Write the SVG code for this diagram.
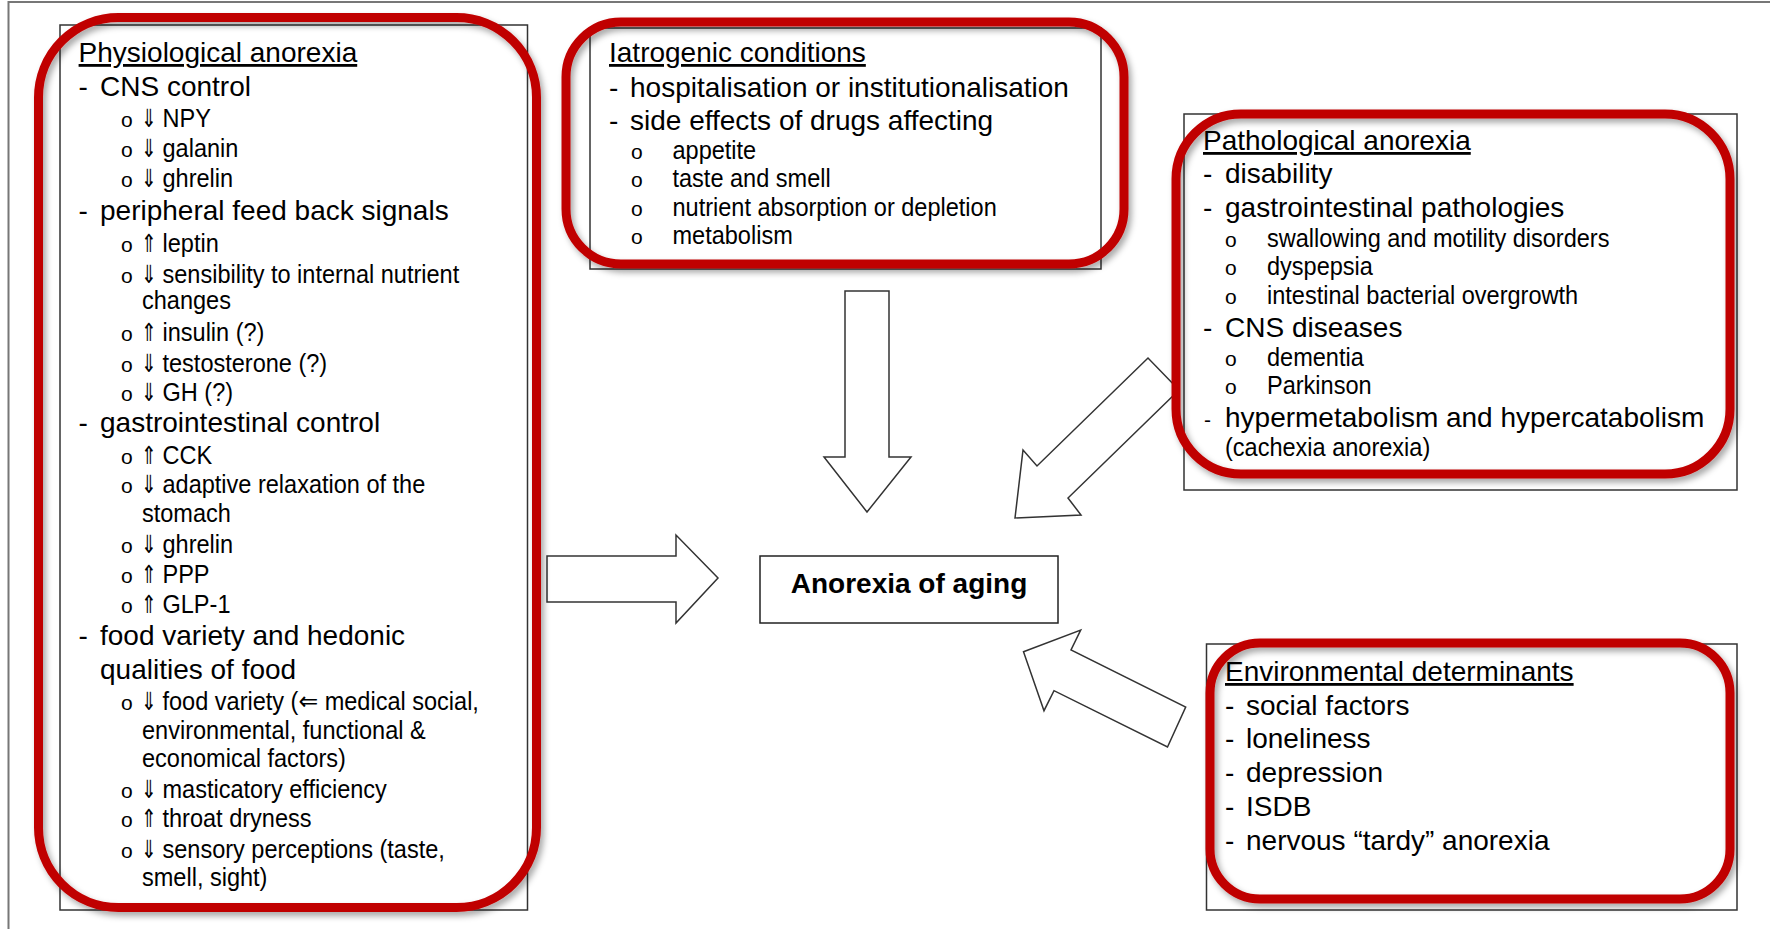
<svg xmlns="http://www.w3.org/2000/svg" width="1770" height="929" viewBox="0 0 1770 929">
<defs>
<filter id="sh" x="-5%" y="-5%" width="112%" height="112%">
<feDropShadow dx="3" dy="4" stdDeviation="3" flood-color="#000" flood-opacity="0.35"/>
</filter>
<style>
text{font-family:"Liberation Sans",Arial,"DejaVu Sans",sans-serif;fill:#000}
.t{font-size:28px}
.u{text-decoration:underline}
.s{font-size:26px}
.b{font-size:21px}
.ar{font-size:25px;font-family:"DejaVu Sans","Liberation Sans",sans-serif}
.box{fill:#fff;stroke:#333;stroke-width:1.5}
.red{fill:none;stroke:#C00000;stroke-width:9;filter:url(#sh)}
.arrow{fill:#fff;stroke:#333;stroke-width:1.5;stroke-linejoin:miter}
.frame{stroke:#777;stroke-width:2;fill:none}
</style>
</defs>
<rect x="0" y="0" width="1770" height="929" fill="#fff"/>
<path class="frame" d="M8.5,929 V2 H1770"/>

<g id="connectors">
<polygon class="arrow" points="845,291 889,291 889,457 911,457 867,512 824,457 845,457"/>
<polygon class="arrow" points="547,556 676,556 676,535 718,578 676,623 676,602 547,602"/>
<polygon class="arrow" points="1015,518 1023,450 1037,466 1148,358 1179,390 1068,498 1081,515"/>
<polygon class="arrow" points="1023.5,651.7 1080.7,630 1071,650 1185.7,707 1167.5,747 1054,690.7 1044,710.7"/>
</g>

<g id="physiological">
<rect class="box" x="60" y="25" width="467.5" height="885"/>
<rect class="red" x="38.5" y="17.5" width="498" height="890" rx="80" ry="80"/>
<text class="t u" x="78.6" y="62">Physiological anorexia</text>
<text class="t" x="78.6" y="96">-</text><text class="t" x="100" y="96">CNS control</text>
<text class="b" x="121" y="127">o</text><text class="ar" transform="translate(141,127) scale(0.75,1)">⇓</text><text class="s" transform="translate(162.5,127) scale(0.905,1)">NPY</text>
<text class="b" x="121" y="157">o</text><text class="ar" transform="translate(141,157) scale(0.75,1)">⇓</text><text class="s" transform="translate(162.5,157) scale(0.905,1)">galanin</text>
<text class="b" x="121" y="187">o</text><text class="ar" transform="translate(141,187) scale(0.75,1)">⇓</text><text class="s" transform="translate(162.5,187) scale(0.905,1)">ghrelin</text>
<text class="t" x="78.6" y="220">-</text><text class="t" x="100" y="220">peripheral feed back signals</text>
<text class="b" x="121" y="252">o</text><text class="ar" transform="translate(141,252) scale(0.75,1)">⇑</text><text class="s" transform="translate(162.5,252) scale(0.905,1)">leptin</text>
<text class="b" x="121" y="283">o</text><text class="ar" transform="translate(141,283) scale(0.75,1)">⇓</text><text class="s" transform="translate(162.5,283) scale(0.905,1)">sensibility to internal nutrient</text>
<text class="s" transform="translate(142,309) scale(0.905,1)">changes</text>
<text class="b" x="121" y="341">o</text><text class="ar" transform="translate(141,341) scale(0.75,1)">⇑</text><text class="s" transform="translate(162.5,341) scale(0.905,1)">insulin (?)</text>
<text class="b" x="121" y="372">o</text><text class="ar" transform="translate(141,372) scale(0.75,1)">⇓</text><text class="s" transform="translate(162.5,372) scale(0.905,1)">testosterone (?)</text>
<text class="b" x="121" y="401">o</text><text class="ar" transform="translate(141,401) scale(0.75,1)">⇓</text><text class="s" transform="translate(162.5,401) scale(0.905,1)">GH (?)</text>
<text class="t" x="78.6" y="432">-</text><text class="t" x="100" y="432">gastrointestinal control</text>
<text class="b" x="121" y="464">o</text><text class="ar" transform="translate(141,464) scale(0.75,1)">⇑</text><text class="s" transform="translate(162.5,464) scale(0.905,1)">CCK</text>
<text class="b" x="121" y="493">o</text><text class="ar" transform="translate(141,493) scale(0.75,1)">⇓</text><text class="s" transform="translate(162.5,493) scale(0.905,1)">adaptive relaxation of the</text>
<text class="s" transform="translate(142,522) scale(0.905,1)">stomach</text>
<text class="b" x="121" y="553">o</text><text class="ar" transform="translate(141,553) scale(0.75,1)">⇓</text><text class="s" transform="translate(162.5,553) scale(0.905,1)">ghrelin</text>
<text class="b" x="121" y="583">o</text><text class="ar" transform="translate(141,583) scale(0.75,1)">⇑</text><text class="s" transform="translate(162.5,583) scale(0.905,1)">PPP</text>
<text class="b" x="121" y="613">o</text><text class="ar" transform="translate(141,613) scale(0.75,1)">⇑</text><text class="s" transform="translate(162.5,613) scale(0.905,1)">GLP-1</text>
<text class="t" x="78.6" y="645">-</text><text class="t" x="100" y="645">food variety and hedonic</text>
<text class="t" x="100" y="679">qualities of food</text>
<text class="b" x="121" y="710">o</text><text class="ar" transform="translate(141,710) scale(0.75,1)">⇓</text><text class="s" transform="translate(162.5,710) scale(0.905,1)">food variety (⇐ medical social,</text>
<text class="s" transform="translate(142,739) scale(0.905,1)">environmental, functional &amp;</text>
<text class="s" transform="translate(142,767) scale(0.905,1)">economical factors)</text>
<text class="b" x="121" y="798">o</text><text class="ar" transform="translate(141,798) scale(0.75,1)">⇓</text><text class="s" transform="translate(162.5,798) scale(0.905,1)">masticatory efficiency</text>
<text class="b" x="121" y="827">o</text><text class="ar" transform="translate(141,827) scale(0.75,1)">⇑</text><text class="s" transform="translate(162.5,827) scale(0.905,1)">throat dryness</text>
<text class="b" x="121" y="858">o</text><text class="ar" transform="translate(141,858) scale(0.75,1)">⇓</text><text class="s" transform="translate(162.5,858) scale(0.905,1)">sensory perceptions (taste,</text>
<text class="s" transform="translate(142,886) scale(0.905,1)">smell, sight)</text>
</g>

<g id="iatrogenic">
<rect class="box" x="590" y="28" width="511" height="241"/>
<rect class="red" x="566" y="22" width="558" height="242" rx="55" ry="55"/>
<text class="t u" x="609" y="62">Iatrogenic conditions</text>
<text class="t" x="609" y="97">-</text><text class="t" x="630" y="97">hospitalisation or institutionalisation</text>
<text class="t" x="609" y="130">-</text><text class="t" x="630" y="130">side effects of drugs affecting</text>
<text class="b" x="631" y="159">o</text><text class="s" transform="translate(672.5,159) scale(0.905,1)">appetite</text>
<text class="b" x="631" y="187">o</text><text class="s" transform="translate(672.5,187) scale(0.905,1)">taste and smell</text>
<text class="b" x="631" y="216">o</text><text class="s" transform="translate(672.5,216) scale(0.905,1)">nutrient absorption or depletion</text>
<text class="b" x="631" y="244">o</text><text class="s" transform="translate(672.5,244) scale(0.905,1)">metabolism</text>
</g>

<g id="pathological">
<rect class="box" x="1184" y="114" width="553" height="376"/>
<rect class="red" x="1176" y="114" width="554" height="360" rx="65" ry="65"/>
<text class="t u" x="1203" y="150">Pathological anorexia</text>
<text class="t" x="1203" y="183">-</text><text class="t" x="1225" y="183">disability</text>
<text class="t" x="1203" y="217">-</text><text class="t" x="1225" y="217">gastrointestinal pathologies</text>
<text class="b" x="1225" y="247">o</text><text class="s" transform="translate(1267,247) scale(0.905,1)">swallowing and motility disorders</text>
<text class="b" x="1225" y="275">o</text><text class="s" transform="translate(1267,275) scale(0.905,1)">dyspepsia</text>
<text class="b" x="1225" y="304">o</text><text class="s" transform="translate(1267,304) scale(0.905,1)">intestinal bacterial overgrowth</text>
<text class="t" x="1203" y="337">-</text><text class="t" x="1225" y="337">CNS diseases</text>
<text class="b" x="1225" y="366">o</text><text class="s" transform="translate(1267,366) scale(0.905,1)">dementia</text>
<text class="b" x="1225" y="394">o</text><text class="s" transform="translate(1267,394) scale(0.905,1)">Parkinson</text>
<text class="b" x="1204" y="427">-</text><text class="t" x="1225" y="427">hypermetabolism and hypercatabolism</text>
<text class="s" transform="translate(1225,456) scale(0.905,1)">(cachexia anorexia)</text>
</g>

<g id="environmental">
<rect class="box" x="1206.5" y="644" width="530.5" height="266"/>
<rect class="red" x="1210" y="643" width="520" height="256" rx="50" ry="50"/>
<text class="t u" x="1225" y="681">Environmental determinants</text>
<text class="t" x="1225" y="715">-</text><text class="t" x="1246" y="715">social factors</text>
<text class="t" x="1225" y="748">-</text><text class="t" x="1246" y="748">loneliness</text>
<text class="t" x="1225" y="782">-</text><text class="t" x="1246" y="782">depression</text>
<text class="t" x="1225" y="816">-</text><text class="t" x="1246" y="816">ISDB</text>
<text class="t" x="1225" y="850">-</text><text class="t" x="1246" y="850">nervous “tardy” anorexia</text>
</g>

<g id="anorexia-of-aging">
<rect class="box" x="760" y="556" width="298" height="67" style="stroke:#222"/>
<text x="909" y="593" text-anchor="middle" style="font-size:28px;font-weight:bold">Anorexia of aging</text>
</g>
</svg>
